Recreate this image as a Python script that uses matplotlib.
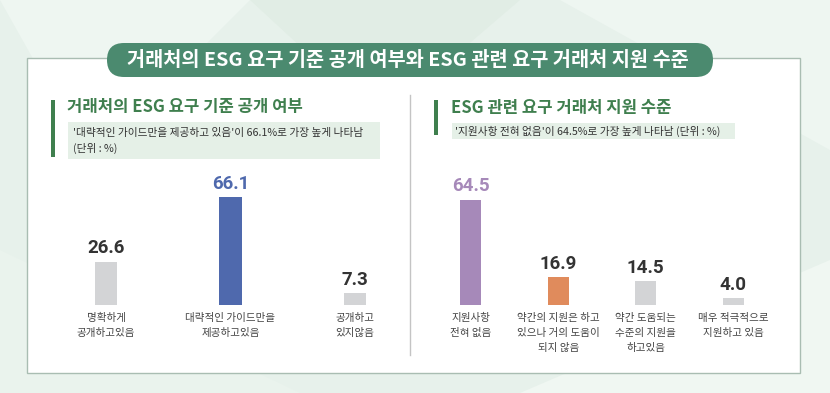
import matplotlib
matplotlib.use('Agg')
import matplotlib.pyplot as plt
from matplotlib.patches import FancyBboxPatch, Rectangle, Polygon
import numpy as np

plt.rcParams['font.family'] = ['Noto Sans CJK KR', 'DejaVu Sans']

# data
main_title = '거래처의 ESG 요구 기준 공개 여부와 ESG 관련 요구 거래처 지원 수준'

left_title = '거래처의 ESG 요구 기준 공개 여부'
left_note = "'대략적인 가이드만을 제공하고 있음'이 66.1%로 가장 높게 나타남\n(단위 : %)"
left_labels = ['명확하게\n공개하고있음', '대략적인 가이드만을\n제공하고있음', '공개하고\n있지않음']
left_values = [26.6, 66.1, 7.3]

right_title = 'ESG 관련 요구 거래처 지원 수준'
right_note = "'지원사항 전혀 없음'이 64.5%로 가장 높게 나타남 (단위 : %)"
right_labels = ['지원사항\n전혀 없음', '약간의 지원은 하고\n있으나 거의 도움이\n되지 않음',
                '약간 도움되는\n수준의 지원을\n하고있음', '매우 적극적으로\n지원하고 있음']
right_values = [64.5, 16.9, 14.5, 4.0]

GREEN = '#3f7f4e'
GRAY = '#d3d4d6'
left_colors = [GRAY, '#4f69ad', GRAY]
left_vcolors = ['#333333', '#4f69ad', '#333333']
right_colors = ['#a689b9', '#e08b5c', GRAY, GRAY]
right_vcolors = ['#a689b9', '#333333', '#333333', '#333333']

W, H = 830, 393
fig = plt.figure(figsize=(W / 100, H / 100), dpi=100)
fig.patch.set_facecolor('#e7f1eb')

# background canvas in pixel coordinates
bg = fig.add_axes([0, 0, 1, 1])
bg.set_xlim(0, W)
bg.set_ylim(H, 0)
bg.axis('off')

# faceted background
for pts, c in [([(0, 0), (250, 0), (90, 160)], '#eef6f1'),
               ([(250, 0), (520, 0), (380, 120)], '#e1ede5'),
               ([(560, 0), (830, 0), (830, 150)], '#eef6f1'),
               ([(0, 393), (0, 250), (300, 393)], '#eaf3ed'),
               ([(520, 393), (830, 260), (830, 393)], '#f0f7f2')]:
    bg.add_patch(Polygon(pts, closed=True, facecolor=c, edgecolor='none', zorder=0))

# white content box
bg.add_patch(Rectangle((27, 58), 773, 315, facecolor='white', edgecolor='#a9bdb2', lw=1, zorder=1))

# title pill
bg.add_patch(FancyBboxPatch((107, 43), 606, 34, boxstyle='round,pad=0,rounding_size=17',
                            facecolor='#4b8a6f', edgecolor='none', zorder=2))
bg.text(408, 60.5, main_title, color='white', fontsize=14.2, fontweight='heavy',
        ha='center', va='center', zorder=3)

# divider
bg.plot([410, 410], [95, 355], color='#c4c4c4', lw=1, zorder=2)

# left header
bg.add_patch(Rectangle((51, 100), 3.5, 57, facecolor=GREEN, edgecolor='none', zorder=2))
bg.text(67, 107, left_title, color=GREEN, fontsize=12, fontweight='heavy', va='center', zorder=3)
bg.add_patch(Rectangle((68, 122), 312, 37, facecolor='#e5f0e7', edgecolor='none', zorder=2))
bg.text(73, 141, left_note, color='#333333', fontsize=7.7, va='center', linespacing=1.65, zorder=3)

# right header
bg.add_patch(Rectangle((434, 100), 3.5, 35, facecolor=GREEN, edgecolor='none', zorder=2))
bg.text(451, 108, right_title, color=GREEN, fontsize=12, fontweight='heavy', va='center', zorder=3)
bg.add_patch(Rectangle((452, 123), 283, 16, facecolor='#e5f0e7', edgecolor='none', zorder=2))
bg.text(455, 131, right_note, color='#333333', fontsize=7.7, va='center', zorder=3)

px_per_unit = 108 / 66.1
base_y = 305
top_y = 165


def bar_panel(x0, x1, n, values, labels, colors, vcolors, width):
    ax = fig.add_axes([x0 / W, 1 - base_y / H, (x1 - x0) / W, (base_y - top_y) / H])
    ax.set_xlim(-0.5, n - 0.5)
    ax.set_ylim(0, (base_y - top_y) / px_per_unit)
    ax.patch.set_alpha(0)
    x = np.arange(n)
    ax.bar(x, values, width=width, color=colors)
    for xi, v, c in zip(x, values, vcolors):
        ax.annotate(f'{v:.1f}', (xi, v), xytext=(0, 9.5), textcoords='offset points',
                    ha='center', va='center', fontsize=13.5, fontweight='bold', color=c,
                    family=['Roboto', 'DejaVu Sans'])
    ax.set_xticks(x)
    ax.set_xticklabels(labels, fontsize=7.6, color='#444444', linespacing=1.6, va='top')
    ax.tick_params(axis='x', length=0, pad=6)
    ax.set_yticks([])
    for s in ax.spines.values():
        s.set_visible(False)
    return ax


bar_panel(44, 417, 3, left_values, left_labels, left_colors, left_vcolors, 0.177)
bar_panel(427, 777, 4, right_values, right_labels, right_colors, right_vcolors, 0.24)

fig.savefig('out.png', dpi=100, facecolor=fig.get_facecolor())
